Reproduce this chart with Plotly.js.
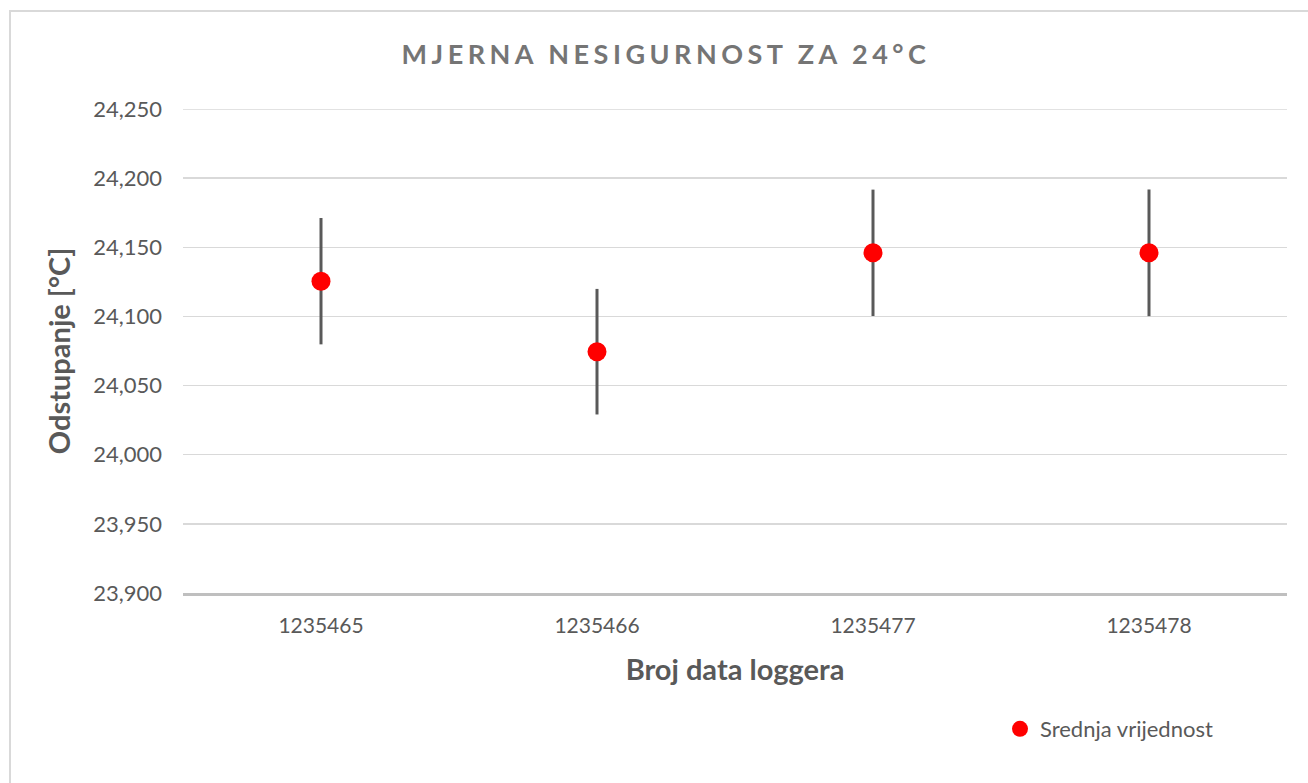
<!DOCTYPE html>
<html>
<head>
<meta charset="utf-8">
<script src="https://cdn.plot.ly/plotly-3.0.1.min.js"></script>
<style>
  body { margin: 0; background: #fff; }
  #wrap { position: relative; width: 1308px; height: 783px; overflow: hidden; }
  #frame { position: absolute; left: 9px; top: 10px; width: 1320px; height: 800px;
           border-left: 2px solid #d9d9d9; border-top: 2px solid #d9d9d9; pointer-events: none; }
  .gtitle { letter-spacing: 4.5px; }
</style>
</head>
<body>
<div id="wrap">
  <div id="plot" style="width:1308px;height:783px;"></div>
  <div id="frame"></div>
</div>
<script>
const categories = ["1235465", "1235466", "1235477", "1235478"];
const meanValues = [24.1255, 24.0745, 24.146, 24.146];
const uncertainty = [0.0457, 0.0454, 0.0457, 0.0458];
const seriesName = "Srednja vrijednost";
const yMin = 23.9;
const yMax = 24.25;

const font = "Lato, 'Open Sans', sans-serif";

const trace = {
  type: "scatter",
  mode: "markers",
  x: categories,
  y: meanValues,
  name: seriesName,
  marker: { color: "#ff0000", size: 19 },
  error_y: { type: "data", array: uncertainty, visible: true, color: "#595959", thickness: 3, width: 0 },
  hoverinfo: "none"
};

const layout = {
  width: 1308,
  height: 783,
  margin: { l: 183, r: 21, t: 109, b: 190, autoexpand: false },
  paper_bgcolor: "rgba(0,0,0,0)",
  plot_bgcolor: "#ffffff",
  separators: ",.",
  showlegend: true,
  font: { family: font, color: "#595959" },
  title: {
    text: "MJERNA NESIGURNOST ZA 24°C",
    font: { family: font, size: 27, color: "#757575", weight: 700 },
    x: 666 / 1308, xanchor: "center", xref: "container",
    y: 1 - 55 / 783, yanchor: "middle", yref: "container"
  },
  xaxis: {
    type: "category",
    range: [-0.5, 3.5],
    showgrid: false,
    showline: true,
    linecolor: "#bfbfbf",
    linewidth: 3,
    ticks: "",
    tickfont: { family: font, size: 21, color: "#595959" },
    ticklabelstandoff: 12,
    title: { text: "Broj data loggera", font: { family: font, size: 29, color: "#595959", weight: 700 }, standoff: 24 },
    zeroline: false,
    fixedrange: true
  },
  yaxis: {
    range: [yMin, yMax],
    dtick: 0.05,
    tick0: yMin,
    tickformat: ".3f",
    showgrid: true,
    gridcolor: "#d9d9d9",
    gridwidth: 1.5,
    zeroline: false,
    showline: false,
    ticks: "",
    tickfont: { family: font, size: 22, color: "#595959" },
    ticklabelstandoff: 20,
    title: { text: "Odstupanje [°C]", font: { family: font, size: 29, color: "#595959", weight: 700 }, standoff: 14 },
    fixedrange: true
  },
  shapes: [{
    type: "line", xref: "paper", yref: "y", x0: 0, x1: 1, y0: yMax, y1: yMax,
    line: { color: "#d9d9d9", width: 1.5 }, layer: "below"
  }],
  legend: {
    x: 1000 / 1308, xref: "container",
    y: 1 - 729 / 783, yref: "container",
    xanchor: "left", yanchor: "middle",
    font: { family: font, size: 22, color: "#595959" },
    itemwidth: 30,
    bgcolor: "rgba(0,0,0,0)"
  }
};

Plotly.newPlot("plot", [trace], layout, { displayModeBar: false, staticPlot: true });
</script>
</body>
</html>
